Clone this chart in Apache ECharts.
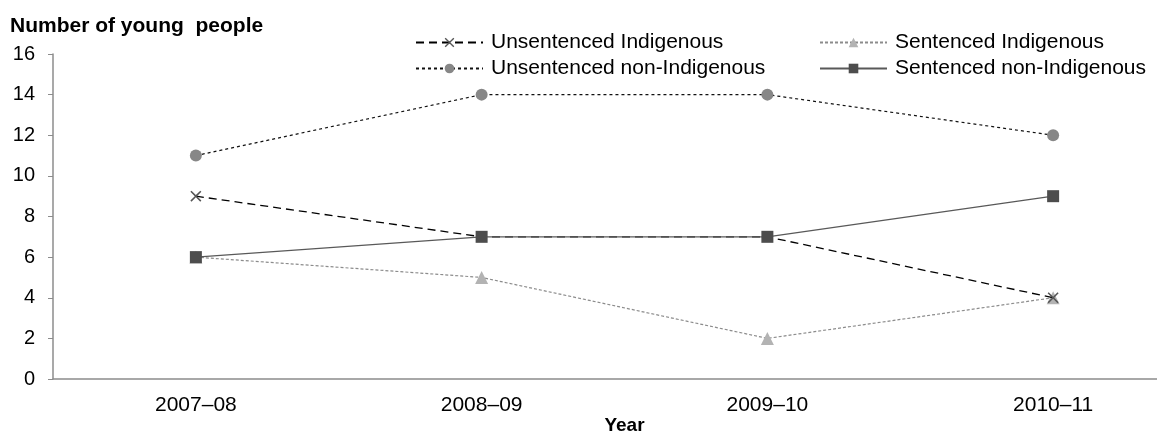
<!DOCTYPE html>
<html><head><meta charset="utf-8">
<script src="https://cdn.jsdelivr.net/npm/echarts@6/dist/echarts.min.js"></script>
<style>html,body{margin:0;padding:0;background:#fff;overflow:hidden;width:1157px;height:434px}#c{width:1196px;height:434px}</style>
</head><body><div id="c"></div>
<script>
const categories = ['2007–08', '2008–09', '2009–10', '2010–11'];
const unsentencedIndigenous = [9, 7, 7, 4];
const unsentencedNonIndigenous = [11, 14, 14, 12];
const sentencedIndigenous = [6, 5, 2, 4];
const sentencedNonIndigenous = [6, 7, 7, 9];
const yTicks = [0, 2, 4, 6, 8, 10, 12, 14, 16];

const font = 'Liberation Sans, Arial, sans-serif';
const crossPath = 'path://M1,0 L5,4 L9,0 L10,1 L6,5 L10,9 L9,10 L5,6 L1,10 L0,9 L4,5 L0,1 Z';
const chart = echarts.init(document.getElementById('c'), null, {renderer: 'canvas'});
const legendBase = {
  orient: 'vertical', itemWidth: 67, itemHeight: 12, itemGap: 5,
  textStyle: {fontFamily: font, fontSize: 21, color: '#000', padding: [0, 0, 0, 3]}
};
chart.setOption({
  animation: false,
  textStyle: {fontFamily: font},
  title: {
    text: 'Number of young  people', left: 5, top: 11,
    textStyle: {fontFamily: font, fontSize: 21, fontWeight: 'bold', color: '#000'}
  },
  legend: [
    Object.assign({}, legendBase, {left: 410, top: 27, data: ['Unsentenced Indigenous', 'Unsentenced non-Indigenous']}),
    Object.assign({}, legendBase, {left: 814, top: 27, data: ['Sentenced Indigenous', 'Sentenced non-Indigenous']})
  ],
  grid: {left: 53, right: 0, top: 54, bottom: 55, containLabel: false, outerBoundsMode: 'none'},
  xAxis: {
    type: 'category', data: categories, boundaryGap: true,
    name: 'Year', nameLocation: 'middle', nameGap: 47, nameMoveOverlap: false,
    nameTextStyle: {fontFamily: font, fontSize: 19, fontWeight: 'bold', color: '#000', verticalAlign: 'middle'},
    axisLine: {lineStyle: {color: '#8c8c8c', width: 1.5}},
    axisTick: {alignWithLabel: true, length: 5, lineStyle: {color: '#8c8c8c'}},
    axisLabel: {fontFamily: font, fontSize: 21, color: '#000', margin: 16}
  },
  yAxis: {
    type: 'value', min: yTicks[0], max: yTicks[yTicks.length - 1], interval: 2,
    axisLine: {show: true, lineStyle: {color: '#8c8c8c', width: 1.5}},
    axisTick: {show: true, length: 5, lineStyle: {color: '#8c8c8c'}},
    splitLine: {show: false},
    axisLabel: {fontFamily: font, fontSize: 20, color: '#000', margin: 18}
  },
  series: [
    {
      name: 'Unsentenced Indigenous', type: 'line', data: unsentencedIndigenous,
      symbol: crossPath, symbolSize: 11, z: 3,
      itemStyle: {color: '#555'},
      lineStyle: {color: '#000', width: 1.3, type: [8, 5]}
    },
    {
      name: 'Unsentenced non-Indigenous', type: 'line', data: unsentencedNonIndigenous,
      symbol: 'circle', symbolSize: 12, z: 3,
      itemStyle: {color: '#878787'},
      lineStyle: {color: '#111', width: 1.2, type: [3, 3]}
    },
    {
      name: 'Sentenced Indigenous', type: 'line', data: sentencedIndigenous,
      symbol: 'triangle', symbolSize: 13, z: 2,
      itemStyle: {color: '#b3b3b3'},
      lineStyle: {color: '#8c8c8c', width: 1.2, type: [3, 2]}
    },
    {
      name: 'Sentenced non-Indigenous', type: 'line', data: sentencedNonIndigenous,
      symbol: 'rect', symbolSize: 12, z: 4,
      itemStyle: {color: '#4d4d4d'},
      lineStyle: {color: '#595959', width: 1.3, type: 'solid'}
    }
  ]
});
</script></body></html>
